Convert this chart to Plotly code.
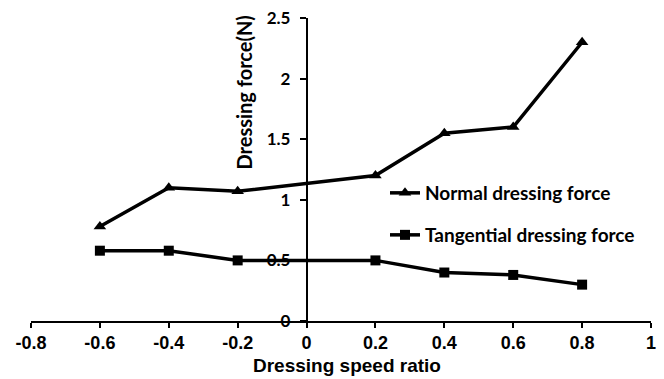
import plotly.graph_objects as go

# Data
speed_ratio = [-0.6, -0.4, -0.2, 0.2, 0.4, 0.6, 0.8]
normal_force = [0.78, 1.10, 1.07, 1.20, 1.55, 1.60, 2.30]
tangential_force = [0.58, 0.58, 0.50, 0.50, 0.40, 0.38, 0.30]

x_tickvals = [-0.8, -0.6, -0.4, -0.2, 0, 0.2, 0.4, 0.6, 0.8, 1]
x_ticktext = ["-0.8", "-0.6", "-0.4", "-0.2", "0", "0.2", "0.4", "0.6", "0.8", "1"]
y_tickvals = [0, 0.5, 1, 1.5, 2, 2.5]
y_ticktext = ["0", "0.5", "1", "1.5", "2", "2.5"]

W, H = 664, 379
ML, MR, MT, MB = 31, 13, 18, 58
PW, PH = W - ML - MR, H - MT - MB


def px_x(p):
    return (p - ML) / PW


def px_y(p):
    return (H - MB - p) / PH


def bold(t):
    return "<b>" + t + "</b>"


fig = go.Figure()
fig.add_trace(go.Scatter(
    x=speed_ratio, y=normal_force, mode="lines+markers",
    name=bold("Normal dressing force"),
    line=dict(color="black", width=3.5),
    marker=dict(symbol="triangle-up", size=11, color="black"),
    legend="legend",
))
fig.add_trace(go.Scatter(
    x=speed_ratio, y=tangential_force, mode="lines+markers",
    name=bold("Tangential dressing force"),
    line=dict(color="black", width=3.5),
    marker=dict(symbol="square", size=10, color="black"),
    legend="legend2",
))

calibri_like = "Lato, 'Open Sans', sans-serif"
arial_like = "'Liberation Sans', Arial, sans-serif"

legend_font = dict(family=calibri_like, size=19, color="black")

fig.update_layout(
    width=W, height=H,
    margin=dict(l=ML, r=MR, t=MT, b=MB, pad=0),
    paper_bgcolor="white", plot_bgcolor="white",
    showlegend=True,
    xaxis=dict(
        range=[-0.8, 1], tickvals=x_tickvals, ticktext=[bold(t) for t in x_ticktext],
        showgrid=False, zeroline=False, showline=True, linecolor="black", linewidth=1.5,
        ticks="outside", ticklen=5, tickwidth=1.5, tickcolor="black",
        tickfont=dict(family=arial_like, size=18, color="black"),
        automargin=False,
        layer="below traces",
    ),
    yaxis=dict(
        range=[0, 2.5], tickvals=y_tickvals, ticktext=[bold(t) for t in y_ticktext],
        anchor="free", position=0.8 / 1.8,
        showgrid=False, zeroline=False, showline=True, linecolor="black", linewidth=1.5,
        ticks="outside", ticklen=6, tickwidth=1.5, tickcolor="black",
        ticklabelstandoff=6,
        tickfont=dict(family=calibri_like, size=17, color="black"),
        automargin=False,
        layer="below traces",
    ),
    legend=dict(x=px_x(385), y=px_y(193), xanchor="left", yanchor="middle",
                bgcolor="rgba(0,0,0,0)", borderwidth=0, font=legend_font),
    legend2=dict(x=px_x(385), y=px_y(235), xanchor="left", yanchor="middle",
                 bgcolor="rgba(0,0,0,0)", borderwidth=0, font=legend_font),
    annotations=[
        dict(
            text=bold("Dressing force(N)"), textangle=-90,
            xref="paper", yref="paper", x=px_x(243), y=px_y(92.5),
            xanchor="center", yanchor="middle", showarrow=False,
            font=dict(family=calibri_like, size=20, color="black"),
        ),
        dict(
            text=bold("Dressing speed ratio"),
            xref="paper", yref="paper", x=px_x(347), y=px_y(365),
            xanchor="center", yanchor="middle", showarrow=False,
            font=dict(family=arial_like, size=19, color="black"),
        ),
    ],
)

fig.write_html("out.html")
